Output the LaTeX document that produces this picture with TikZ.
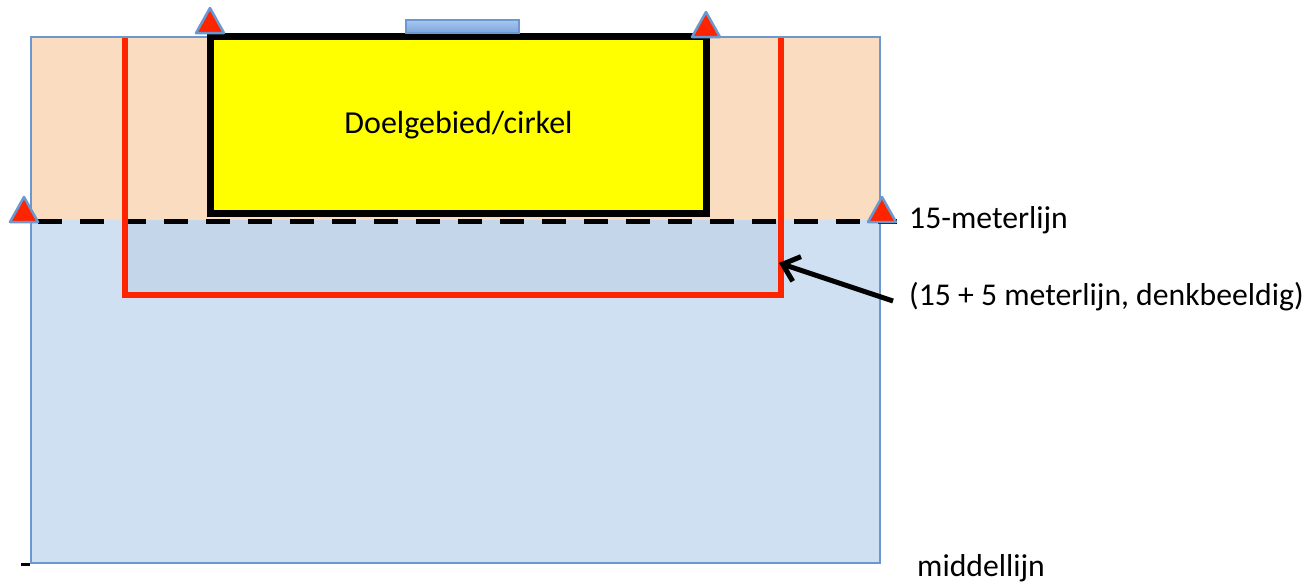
\documentclass[tikz,border=0pt]{standalone}
\usepackage{fontspec}
\setmainfont{Carlito}
\usetikzlibrary{arrows.meta}
\definecolor{fieldline}{HTML}{6A98CF}
\definecolor{peach}{HTML}{FADCC1}
\definecolor{paleblue}{HTML}{CFE0F2}
\definecolor{zoneblue}{HTML}{C3D6EA}
\definecolor{redline}{HTML}{FF2400}
\definecolor{goalyellow}{HTML}{FFFF00}
\definecolor{barlight}{HTML}{A8C6F0}
\definecolor{bardark}{HTML}{7BA6DD}
\tikzset{
  marker/.style={fill=redline, draw=fieldline, line width=2.5pt, line join=round},
  lbl/.style={font=\fontsize{31.7}{36}\selectfont, inner sep=0pt, anchor=west, text=black},
}
\begin{document}
\begin{tikzpicture}[x=1pt,y=-1pt]
\useasboundingbox (0,0) rectangle (1309,582);
% field parts
\fill[peach] (31,37) rectangle (880,220);
\fill[paleblue] (31,220) rectangle (880,563);
\fill[zoneblue] (125,220) rectangle (781,295);
\draw[fieldline, line width=2.8pt] (31,37) rectangle (880,563);
\draw[black, line width=3pt] (21,564) -- (30,564);
% 15 meter line
\coordinate (d1) at (38,221);
\coordinate (d2) at (897,221);
\draw[black, line width=5pt, dash pattern=on 24pt off 18pt] (d1) -- (d2);
% red imaginary line
\coordinate (r1) at (125,38);
\coordinate (r2) at (125,295);
\coordinate (r3) at (781,295);
\coordinate (r4) at (781,38);
\draw[redline, line width=5.5pt, line join=miter] (r1) -- (r2) -- (r3) -- (r4);
% goal area
\node[draw=black, line width=7pt, fill=goalyellow, minimum width=496pt, minimum height=177pt, inner sep=0pt, font=\fontsize{32}{36}\selectfont] (goal) at (458.5,125) {Doelgebied/cirkel};
% goal bar
\draw[fieldline, line width=2pt, top color=barlight, bottom color=bardark] (406,20) rectangle (519,33);
% markers
\draw[marker] (196,33) -- (210,8) -- (224,33) -- cycle;
\draw[marker] (692,37) -- (706,12) -- (720,37) -- cycle;
\draw[marker] (10,222) -- (24,197) -- (38,222) -- cycle;
\draw[marker] (868,222) -- (882,197) -- (896,222) -- cycle;
% labels
\node[lbl] (l15) at (909,220) {15-meterlijn};
\node[lbl] (l20) at (909,297) {(15 + 5 meterlijn, denkbeeldig)};
\node[lbl] (lmid) at (917,568) {middellijn};
% arrow
\coordinate (tip) at (779,263);
\draw[black, line width=5pt, -{Straight Barb[length=15pt, width=26pt, line width=5pt]}] ([xshift=-16pt,yshift=-4pt]l20.west) -- (tip);
\end{tikzpicture}
\end{document}
